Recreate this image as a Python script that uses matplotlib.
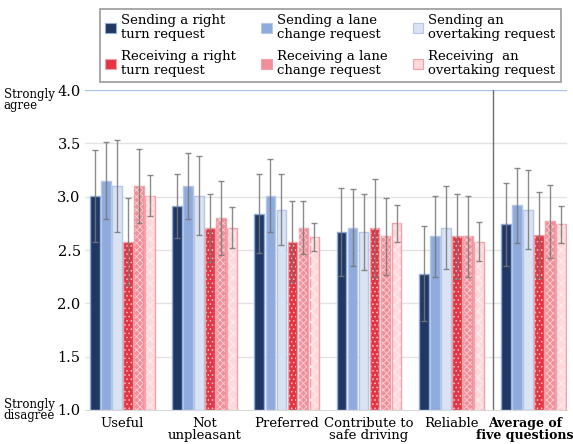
import matplotlib
matplotlib.use("Agg")
import matplotlib.pyplot as plt
from matplotlib.patches import Patch
import numpy as np

categories = ["Useful", "Not\nunpleasant", "Preferred", "Contribute to\nsafe driving",
              "Reliable", "Average of\nfive questions"]
series = ["Sending a right\nturn request", "Sending a lane\nchange request",
          "Sending an\novertaking request", "Receiving a right\nturn request",
          "Receiving a lane\nchange request", "Receiving  an\novertaking request"]

# mean score per series, one entry per category
send_right = [3.01, 2.91, 2.84, 2.67, 2.28, 2.74]
send_lane = [3.15, 3.10, 3.01, 2.71, 2.63, 2.92]
send_overtake = [3.10, 3.01, 2.88, 2.67, 2.71, 2.88]
recv_right = [2.58, 2.71, 2.58, 2.71, 2.63, 2.64]
recv_lane = [3.10, 2.80, 2.71, 2.63, 2.63, 2.77]
recv_overtake = [3.01, 2.71, 2.62, 2.75, 2.58, 2.74]

# standard deviations
err_send_right = [0.43, 0.30, 0.37, 0.41, 0.45, 0.39]
err_send_lane = [0.36, 0.31, 0.34, 0.36, 0.38, 0.35]
err_send_overtake = [0.43, 0.37, 0.33, 0.36, 0.39, 0.37]
err_recv_right = [0.41, 0.32, 0.38, 0.46, 0.40, 0.40]
err_recv_lane = [0.35, 0.35, 0.25, 0.36, 0.38, 0.34]
err_recv_overtake = [0.19, 0.19, 0.13, 0.17, 0.18, 0.17]

yticks = [1.0, 1.5, 2.0, 2.5, 3.0, 3.5, 4.0]

means = [send_right, send_lane, send_overtake, recv_right, recv_lane, recv_overtake]
errs = [err_send_right, err_send_lane, err_send_overtake,
        err_recv_right, err_recv_lane, err_recv_overtake]

faces = ["#203864", "#8faadc", "#dae3f3", "#e33644", "#f08f99", "#fdd9dc"]
edges = ["#8faadc", "#b4c7e7", "#b4c7e7", "#f4a0a8", "#f4a0a8", "#f4a0a8"]
hatches = [None, None, None, "....", "xxxxx", "xxx"]
hatch_cols = [None, None, None, "#f7c4c8", "#fbd0d4", "#fff0f1"]

plt.rcParams["font.family"] = ["DejaVu Serif"]
plt.rcParams["hatch.linewidth"] = 0.6

fig = plt.figure(figsize=(5.73, 4.44), dpi=100)
ax = fig.add_axes([0.148, 0.0766, 0.842, 0.7204])

x = np.arange(len(categories))
step = 0.134
width = 0.116

for i in range(6):
    pos = x + (i - 2.5) * step
    ax.bar(pos, np.array(means[i]) - 1.0, width, bottom=1.0, color=faces[i],
           edgecolor=edges[i], linewidth=1.0, zorder=2)
    if hatches[i]:
        plt.rcParams["hatch.color"] = hatch_cols[i]
        ax.bar(pos, np.array(means[i]) - 1.0, width - 0.02, bottom=1.0,
               color="none", linewidth=0, hatch=hatches[i], zorder=2.5)
    ax.errorbar(pos, means[i], yerr=errs[i], fmt="none", ecolor="#777777",
                elinewidth=1.0, capsize=2.5, capthick=1.0, alpha=0.85, zorder=3)

ax.set_ylim(1.0, 4.0)
ax.set_xlim(-0.456, 5.41)
ax.set_yticks(yticks)
ax.set_yticklabels([f"{v:.1f}" for v in yticks], fontsize=10.5)
ax.set_xticks(x)
ax.set_xticklabels(categories[:-1] + [""], fontsize=9.5, linespacing=0.9)
# bold summary label, pulled slightly left so it stays inside the figure
ax.annotate(categories[-1], xy=(x[-1], 0), xycoords=ax.get_xaxis_transform(),
            xytext=(-6, -5), textcoords="offset points", ha="center", va="top",
            fontsize=9, fontweight="bold", linespacing=0.9)
ax.tick_params(axis="y", length=0, pad=3)
ax.tick_params(axis="x", length=0, pad=5)

for v in yticks[1:-1]:
    ax.axhline(v, color="#e3e3e3", linewidth=1.0, zorder=0)
ax.axhline(4.0, color="#a9c4e8", linewidth=1.0, zorder=0)
for s in ["top", "right", "left"]:
    ax.spines[s].set_visible(False)
ax.spines["bottom"].set_color("#d9d9d9")
ax.axvline(4.507, color="#707070", linewidth=1.0, zorder=1)

ax.text(-0.168, 4.02, "Strongly\nagree", transform=ax.get_yaxis_transform(),
        ha="left", va="top", fontsize=8.5, linespacing=0.85)
ax.text(-0.168, 1.0, "Strongly\ndisagree", transform=ax.get_yaxis_transform(),
        ha="left", va="center", fontsize=8.5, linespacing=0.85)

handles = []
for i in range(6):
    handles.append(Patch(facecolor=faces[i], edgecolor=edges[i], linewidth=0.8))
# legend fills column by column, so interleave to get sending on top row
order = [0, 3, 1, 4, 2, 5]
leg = fig.legend([handles[k] for k in order], [series[k] for k in order],
                 ncol=3, loc="upper left",
                 bbox_to_anchor=(0.163, 0.995), fontsize=9.5,
                 frameon=True, fancybox=False, edgecolor="#808080",
                 handlelength=0.8, handleheight=0.8, handletextpad=0.4,
                 columnspacing=1.9, labelspacing=0.75, borderpad=0.4)
leg.get_frame().set_linewidth(1.2)
for t in leg.get_texts():
    t.set_linespacing(1.05)

fig.savefig("out.png", dpi=100)
plt.close(fig)
